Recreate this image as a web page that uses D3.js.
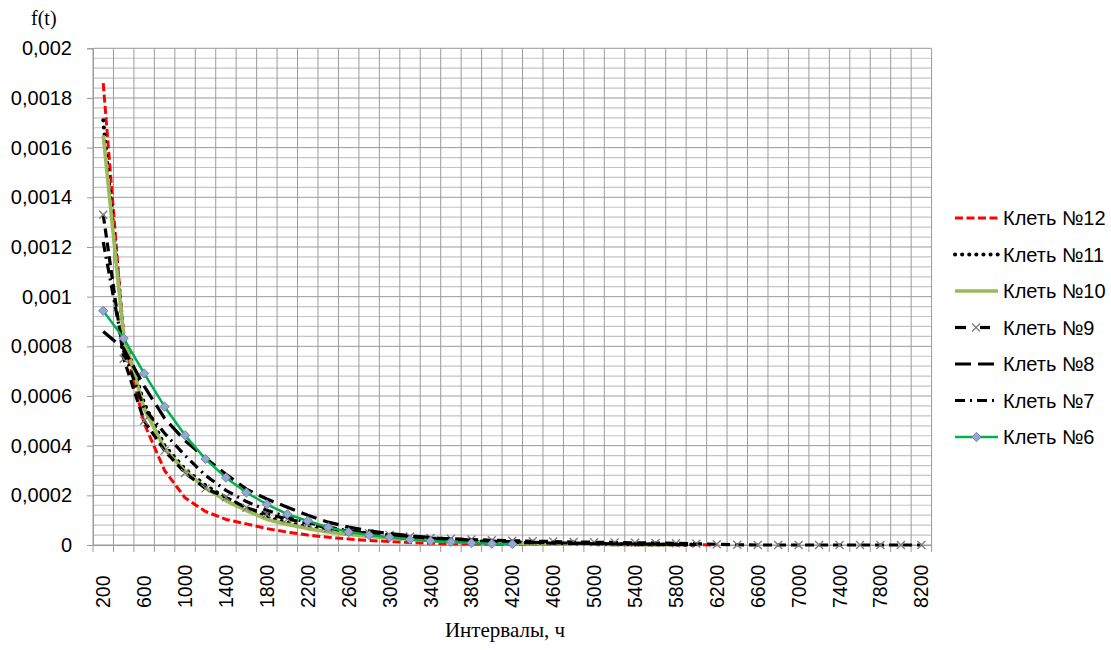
<!DOCTYPE html>
<html><head><meta charset="utf-8">
<script src="https://cdn.jsdelivr.net/npm/d3@7/dist/d3.min.js"></script>
<style>body{margin:0;background:#fff} svg{display:block}</style>
</head><body><svg id="c" width="1111" height="650"></svg>
<script>
// ---------- data ----------
const categories = [200,400,600,800,1000,1200,1400,1600,1800,2000,2200,2400,2600,2800,3000,3200,3400,3600,3800,4000,4200,4400,4600,4800,5000,5200,5400,5600,5800,6000,6200,6400,6600,6800,7000,7200,7400,7600,7800,8000,8200];
const xTickLabels = ["200","600","1000","1400","1800","2200","2600","3000","3400","3800","4200","4600","5000","5400","5800","6200","6600","7000","7400","7800","8200"];
const yTicks = [0,0.0002,0.0004,0.0006,0.0008,0.001,0.0012,0.0014,0.0016,0.0018,0.002];
const yTickLabels = ["0","0,0002","0,0004","0,0006","0,0008","0,001","0,0012","0,0014","0,0016","0,0018","0,002"];
const seriesNames = ["Клеть №12","Клеть №11","Клеть №10","Клеть №9","Клеть №8","Клеть №7","Клеть №6"];

const kl12 = [0.00186,0.00083,0.00049,0.00030,0.00019,0.000135,0.000103,0.000085,0.000066,0.000052,0.00004,0.000031,0.000024,0.000018,0.000014,0.00001,0.000007,0.000005,0.000004,0.0000035,0.000003,0.0000027,0.0000024,0.000002,0.0000018,0.0000015,0.0000012,0.000001,0.0000008,0.0000006,0.0000004];
const kl11 = [0.00171,0.00084,0.00057,0.00040,0.000305,0.00024,0.00019,0.000148,0.000112,0.00009,0.000072,0.000057,0.000046,0.000037,0.00003,0.000024,0.000019,0.000015,0.000012,0.00001,0.000008,0.0000065,0.000005,0.000004,0.0000035,0.000003,0.0000025,0.000002,0.0000015,0.000001];
const kl10 = [0.00165,0.00084,0.00055,0.000387,0.000298,0.00023,0.000178,0.000139,0.000103,0.000083,0.000066,0.000052,0.000042,0.000034,0.000028,0.000023,0.000018,0.000014,0.000011,0.000009,0.000007,0.0000055,0.0000045,0.0000035,0.000003,0.0000025,0.000002,0.0000015,0.000001];
const kl9  = [0.00133,0.00075,0.00050,0.00038,0.00029,0.000228,0.000192,0.000150,0.000125,0.000105,0.000087,0.000068,0.000055,0.000047,0.00004,0.000034,0.000028,0.000025,0.000022,0.000019,0.000017,0.000015,0.000014,0.000012,0.000011,0.00001,0.000009,0.000008,0.000007,0.000005,0.000003,0.000001,0,0,0,0,0,0,0,0,0];
const kl8  = [0.00086,0.00079,0.00064,0.00051,0.00042,0.00035,0.000285,0.000225,0.000185,0.000152,0.00012,0.000092,0.000072,0.000057,0.000046,0.000037,0.00003,0.000024,0.00002,0.000016,0.000013,0.000011,0.000009,0.0000075,0.000006,0.000005,0.000004,0.0000032,0.0000025,0.000002];
const kl7  = [0.00122,0.00078,0.00055,0.00045,0.00036,0.00028,0.00022,0.000175,0.00014,0.000112,0.00009,0.000072,0.000058,0.000047,0.000038,0.000031,0.000025,0.00002,0.000016,0.000013,0.000011,0.000009,0.0000075,0.000006,0.000005,0.000004,0.0000032,0.0000025,0.000002,0.0000015];
const kl6  = [0.000943,0.000832,0.000691,0.000557,0.000442,0.000346,0.000271,0.000211,0.000164,0.000124,0.000097,0.000071,0.000052,0.00004,0.000031,0.000022,0.000016,0.000012,0.000008,0.000005,0.000004];

// ---------- layout ----------
const svg = d3.select("#c");
const P = {left:93, right:931.6, top:48.3, bottom:545};
const x = d3.scaleBand().domain(categories).range([P.left, P.right]).padding(0);
const y = d3.scaleLinear().domain([0, 0.002]).range([P.bottom, P.top]);
const cx = c => x(c) + x.bandwidth()/2;

// minor horizontal gridlines
const minorVals = d3.range(0, 0.002 + 1e-9, 0.00004).filter(v => !yTicks.some(t => Math.abs(t - v) < 1e-9));
svg.append("g").selectAll("line").data(minorVals).join("line")
  .attr("x1", P.left).attr("x2", P.right)
  .attr("y1", d => y(d)).attr("y2", d => y(d))
  .attr("stroke", "#c4c4c4").attr("stroke-width", 1.2);

// vertical gridlines at category boundaries (+ tick marks below)
const bounds = categories.map(c => x(c)).concat([P.right]);
svg.append("g").selectAll("line").data(bounds).join("line")
  .attr("x1", d => d).attr("x2", d => d)
  .attr("y1", P.top).attr("y2", P.bottom + 7)
  .attr("stroke", "#9a9a9a").attr("stroke-width", 1);

// major horizontal gridlines
svg.append("g").selectAll("line").data(yTicks).join("line")
  .attr("x1", P.left).attr("x2", P.right)
  .attr("y1", d => y(d)).attr("y2", d => y(d))
  .attr("stroke", "#9a9a9a").attr("stroke-width", 1);

// y axis
const yAxis = d3.axisLeft(y).tickValues(yTicks)
  .tickFormat((d, i) => yTickLabels[i]).tickSize(6).tickPadding(15);
const gy = svg.append("g").attr("transform", `translate(${P.left},0)`).call(yAxis);
gy.select(".domain").attr("stroke", "#9a9a9a");
gy.selectAll(".tick line").attr("stroke", "#9a9a9a");
gy.selectAll("text").attr("font-family", "Liberation Sans, Arial, sans-serif")
  .attr("font-size", 20).attr("fill", "#000");

// x axis (labels on every other category)
const xAxis = d3.axisBottom(x).tickValues(categories.filter((c, i) => i % 2 === 0))
  .tickFormat((d, i) => xTickLabels[i]).tickSize(0);
const gx = svg.append("g").attr("transform", `translate(0,${P.bottom})`).call(xAxis);
gx.select(".domain").attr("stroke", "#9a9a9a");
gx.selectAll("text")
  .attr("font-family", "Liberation Sans, Arial, sans-serif").attr("font-size", 19.5).attr("fill", "#000")
  .attr("text-anchor", "start").attr("x", 0).attr("y", 0).attr("dy", "0.36em")
  .attr("transform", "translate(0,63) rotate(-90)");

// ---------- series ----------
const seriesData = [kl12, kl11, kl10, kl9, kl8, kl7, kl6];
const styles = [
  {stroke:"#FF0000", w:3, dash:"8,3.5", cap:"butt"},
  {stroke:"#000000", w:4, dash:"0.1,7", cap:"round"},
  {stroke:"#9BBB59", w:3.6, dash:null, cap:"butt"},
  {stroke:"#000000", w:3.2, dash:"9,5", cap:"butt", marker:"x"},
  {stroke:"#000000", w:3.2, dash:"16,7", cap:"butt"},
  {stroke:"#000000", w:3.2, dash:"10,5,2,5", cap:"butt"},
  {stroke:"#00B050", w:2.5, dash:null, cap:"butt", marker:"diamond"}
];
const line = d3.line().defined(d => d != null).x(d => cx(d.c)).y(d => y(d.v));
const gS = svg.append("g");
seriesData.forEach((arr, si) => {
  const st = styles[si];
  const pts = arr.map((v, i) => ({c: categories[i], v}));
  gS.append("path").datum(pts).attr("d", line).attr("fill", "none")
    .attr("stroke", st.stroke).attr("stroke-width", st.w)
    .attr("stroke-dasharray", st.dash).attr("stroke-linecap", st.cap).attr("stroke-linejoin", "round");
  if (st.marker === "x") {
    gS.append("g").selectAll("path").data(pts).join("path")
      .attr("d", d => { const px = cx(d.c), py = y(d.v), r = 4; return `M${px-r},${py-r}L${px+r},${py+r}M${px-r},${py+r}L${px+r},${py-r}`; })
      .attr("stroke", "#7a7a7a").attr("stroke-width", 1.3).attr("fill", "none");
  } else if (st.marker === "diamond") {
    gS.append("g").selectAll("path").data(pts).join("path")
      .attr("d", d => { const px = cx(d.c), py = y(d.v), r = 4.6; return `M${px},${py-r}L${px+r},${py}L${px},${py+r}L${px-r},${py}Z`; })
      .attr("fill", "#93A9D1").attr("stroke", "#6F82A6").attr("stroke-width", 1);
  }
});

// ---------- legend ----------
const legY = [218, 254.5, 291, 327.5, 364, 400.5, 437];
const gL = svg.append("g");
seriesNames.forEach((name, i) => {
  const st = styles[i], ly = legY[i];
  if (st.marker === "x") {
    gL.append("line").attr("x1", 955).attr("x2", 966).attr("y1", ly).attr("y2", ly)
      .attr("stroke", "#000").attr("stroke-width", st.w);
    gL.append("line").attr("x1", 980).attr("x2", 990).attr("y1", ly).attr("y2", ly)
      .attr("stroke", "#000").attr("stroke-width", st.w);
    const r = 4, px = 976;
    gL.append("path").attr("d", `M${px-r},${ly-r}L${px+r},${ly+r}M${px-r},${ly+r}L${px+r},${ly-r}`)
      .attr("stroke", "#7a7a7a").attr("stroke-width", 1.3);
  } else {
    gL.append("line").attr("x1", 955).attr("x2", 998).attr("y1", ly).attr("y2", ly)
      .attr("stroke", st.stroke).attr("stroke-width", st.w)
      .attr("stroke-dasharray", st.dash).attr("stroke-linecap", st.cap);
    if (st.marker === "diamond") {
      const r = 4.6, px = 976.5;
      gL.append("path").attr("d", `M${px},${ly-r}L${px+r},${ly}L${px},${ly+r}L${px-r},${ly}Z`)
        .attr("fill", "#93A9D1").attr("stroke", "#6F82A6").attr("stroke-width", 1);
    }
  }
  gL.append("text").attr("x", 1003).attr("y", ly).attr("dy", "0.35em")
    .attr("font-family", "Liberation Sans, Arial, sans-serif").attr("font-size", 20)
    .attr("fill", "#000").text(name);
});

// ---------- titles ----------
svg.append("text").attr("x", 31).attr("y", 25)
  .attr("font-family", "Liberation Serif, Times New Roman, serif").attr("font-size", 20)
  .attr("fill", "#000").text("f(t)");
svg.append("text").attr("x", 505).attr("y", 637).attr("text-anchor", "middle")
  .attr("font-family", "Liberation Serif, Times New Roman, serif").attr("font-size", 21)
  .attr("fill", "#000").text("Интервалы, ч");
</script></body></html>
